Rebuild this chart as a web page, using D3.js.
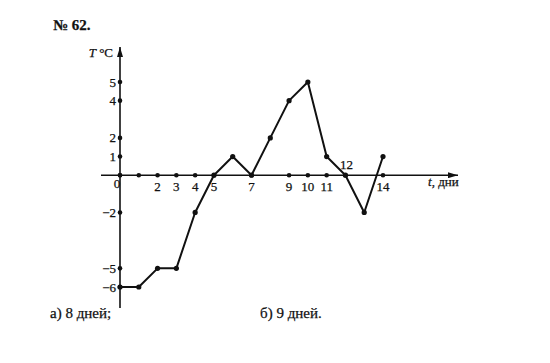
<!doctype html>
<html lang="ru">
<head>
<meta charset="utf-8">
<script src="https://cdn.jsdelivr.net/npm/d3@7"></script>
<style>
  body { margin: 0; background: #fff; }
  svg { display: block; font-family: "Liberation Serif", "DejaVu Serif", serif; }
  text { stroke: #111; stroke-width: 0.25; }
</style>
</head>
<body>
<svg id="chart" width="550" height="363"></svg>
<script>
// days and temperature
const days = [0, 1, 2, 3, 4, 5, 6, 7, 8, 9, 10, 11, 12, 13, 14];
const temps = [-6, -6, -5, -5, -2, 0, 1, 0, 2, 4, 5, 1, 0, -2, 1];
// ticks on the axes
const xDots = [0, 1, 2, 3, 4, 5, 7, 9, 10, 11, 12, 14];
const xLabels = [2, 3, 4, 5, 7, 9, 10, 11, 14];
const yDots = [5, 4, 2, 1, 0, -2, -5, -6];
const yLabels = [5, 4, 2, 1, -2, -5, -6];

const svg = d3.select('#chart');
const x = d3.scaleLinear().domain([0, 14]).range([120, 383]);
const y = d3.scaleLinear().domain([-6, 5]).range([287, 82]);

const ink = '#111';

// arrow
svg.append('defs').append('marker')
  .attr('id', 'arr').attr('viewBox', '0 0 10 6')
  .attr('refX', 10).attr('refY', 3)
  .attr('markerWidth', 10).attr('markerHeight', 6)
  .attr('markerUnits', 'userSpaceOnUse')
  .attr('orient', 'auto')
  .append('path').attr('d', 'M0,0L10,3L0,6Z').attr('fill', ink);

// axes
svg.append('line')
  .attr('x1', x(0)).attr('x2', x(0))
  .attr('y1', 308).attr('y2', 47)
  .attr('stroke', ink).attr('stroke-width', 1.6)
  .attr('marker-end', 'url(#arr)');
svg.append('line')
  .attr('x1', 101).attr('x2', 458)
  .attr('y1', y(0)).attr('y2', y(0))
  .attr('stroke', ink).attr('stroke-width', 1.6)
  .attr('marker-end', 'url(#arr)');

// axis dots
svg.selectAll('.xd').data(xDots).enter().append('circle')
  .attr('cx', d => x(d)).attr('cy', y(0)).attr('r', 2.3).attr('fill', ink);
svg.selectAll('.yd').data(yDots).enter().append('circle')
  .attr('cx', x(0)).attr('cy', d => y(d)).attr('r', 2.3).attr('fill', ink);

// labels
svg.selectAll('.xl').data(xLabels).enter().append('text')
  .attr('x', d => x(d)).attr('y', y(0) + 16)
  .attr('text-anchor', 'middle').attr('font-size', 13).attr('fill', ink)
  .text(d => d);
svg.append('text').attr('x', x(12) + 1).attr('y', y(0) - 6)
  .attr('text-anchor', 'middle').attr('font-size', 13).attr('fill', ink).text('12');
svg.append('text').attr('x', x(0) - 3).attr('y', y(0) + 13)
  .attr('text-anchor', 'middle').attr('font-size', 13).attr('fill', ink).text('0');
svg.selectAll('.yl').data(yLabels).enter().append('text')
  .attr('x', x(0) - 4).attr('y', d => y(d) + 4.5)
  .attr('text-anchor', 'end').attr('font-size', 13).attr('fill', ink)
  .text(d => d < 0 ? '\u2212' + Math.abs(d) : d);

// line
const line = d3.line().x((d, i) => x(days[i])).y(d => y(d));
svg.append('path').datum(temps)
  .attr('d', line).attr('fill', 'none')
  .attr('stroke', ink).attr('stroke-width', 2).attr('stroke-linejoin', 'round');
svg.selectAll('.pt').data(temps).enter().append('circle')
  .attr('cx', (d, i) => x(days[i])).attr('cy', d => y(d))
  .attr('r', 2.6).attr('fill', ink);

// titles
svg.append('text').attr('x', 53).attr('y', 30)
  .attr('font-size', 15).attr('font-weight', 'bold').attr('fill', ink).text('№ 62.');
svg.append('text').attr('x', 113).attr('y', 57)
  .attr('text-anchor', 'end').attr('font-size', 13).attr('fill', ink)
  .html('<tspan font-style="italic">T</tspan> °C');
svg.append('text').attr('x', 428).attr('y', 186)
  .attr('font-size', 13).attr('fill', ink)
  .html('<tspan font-style="italic">t</tspan>, дни');

svg.append('text').attr('x', 50).attr('y', 318)
  .attr('font-size', 15).attr('fill', ink).text('а) 8 дней;');
svg.append('text').attr('x', 260).attr('y', 318)
  .attr('font-size', 15).attr('fill', ink).text('б) 9 дней.');
</script>
</body>
</html>
